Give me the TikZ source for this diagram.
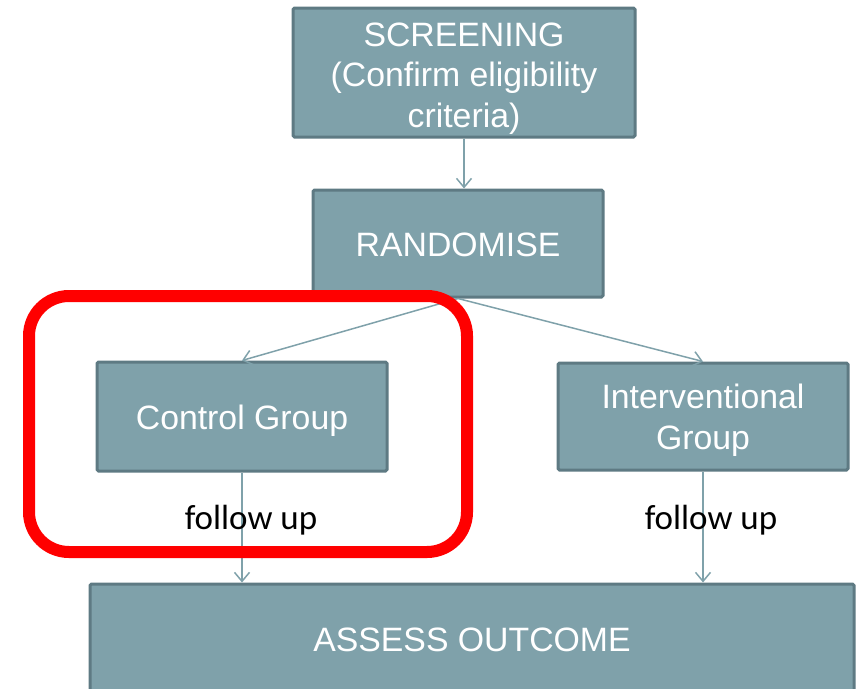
\documentclass[tikz,border=0pt]{standalone}
\usepackage{fontspec}
\setmainfont{Liberation Sans}
\newfontfamily\notefont{Carlito}
\usetikzlibrary{arrows.meta}
\definecolor{boxfill}{HTML}{7FA1AA}
\definecolor{boxedge}{HTML}{5E7A83}
\definecolor{flow}{HTML}{7FA1AA}
\definecolor{hilite}{HTML}{FF0000}

% centred block of lines, lowered a little inside its box
\newcommand\stagetext[2][4.5pt]{\raisebox{-#1}[\height][\depth]{\begin{tabular}{@{}c@{}}#2\end{tabular}}}

\begin{document}
\begin{tikzpicture}[x=1pt,y=-1pt,
  stagebox/.style={draw=boxedge, fill=boxfill, line width=3pt, rounded corners=1.5pt,
    inner sep=0pt, text=white,
    font=\fontsize{33.8}{40.5}\selectfont},
  flowarrow/.style={draw=flow, line width=1.5pt,
    -{Straight Barb[length=9pt,width=15pt,line width=1.5pt]}},
  note/.style={font=\notefont\fontsize{35}{40}\selectfont, text=black, inner sep=0pt},
  focusframe/.style={draw=hilite, line width=12pt, rounded corners=40pt, inner sep=0pt}]
\useasboundingbox (0,0) rectangle (862,688);

% stages of the trial
\node[stagebox, minimum width=342pt, minimum height=129pt] (screen) at (464,72.5)
  {\stagetext[6pt]{SCREENING\\(Confirm eligibility\\criteria)}};
\node[stagebox, minimum width=290pt, minimum height=107pt] (rand) at (458,243.5)
  {\stagetext{RANDOMISE}};
\node[stagebox, minimum width=290pt, minimum height=109pt] (control) at (242,416.5)
  {\stagetext{Control Group}};
\node[stagebox, minimum width=290pt, minimum height=107pt] (inter) at (703,416.5)
  {\stagetext{Interventional\\Group}};
\node[stagebox, minimum width=764pt, minimum height=110pt] (assess) at (472,639)
  {\stagetext{ASSESS OUTCOME}};

% connectors
\draw[flowarrow] (screen.south) -- (screen.south |- rand.north);
\draw[flowarrow] (rand.south) -- (control.north);
\draw[flowarrow] (rand.south) -- (inter.north);
\draw[flowarrow] (control.south) -- (control.south |- assess.north);
\draw[flowarrow] (inter.south) -- (inter.south |- assess.north);

% follow-up labels
\node[note] (fu1) at (251,520) {follow up};
\node[note] (fu2) at (711,520) {follow up};

% highlight around the control arm
\node[focusframe, minimum width=438pt, minimum height=256pt] (focus) at (248,424) {};
\end{tikzpicture}
\end{document}
